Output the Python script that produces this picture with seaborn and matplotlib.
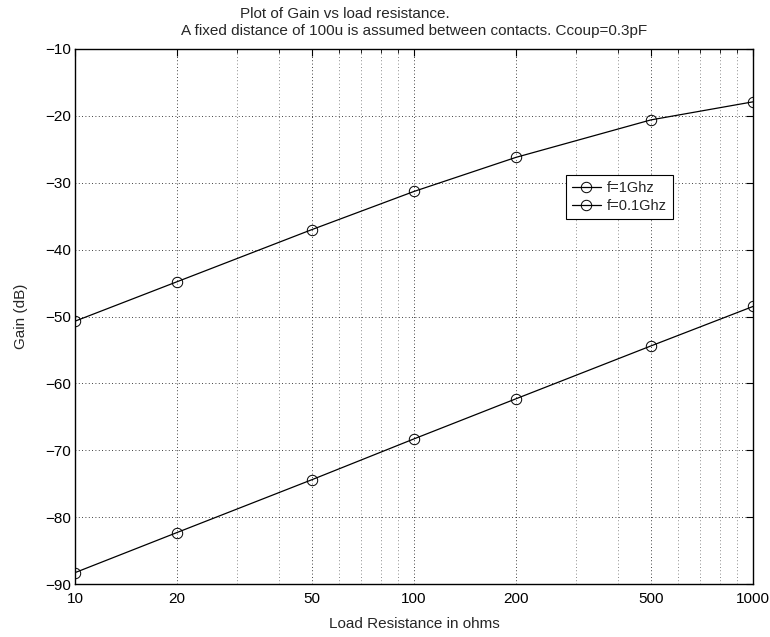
import matplotlib
matplotlib.use("Agg")
import matplotlib.pyplot as plt
import seaborn as sns
import pandas as pd
from matplotlib.ticker import FixedLocator, LogLocator, NullFormatter, FixedFormatter

resistance = [10, 20, 50, 100, 200, 500, 1000]
gain_1ghz = [-50.7, -44.8, -37.0, -31.3, -26.2, -20.6, -17.9]
gain_01ghz = [-88.3, -82.3, -74.4, -68.3, -62.3, -54.4, -48.5]
series_labels = ["f=1Ghz", "f=0.1Ghz"]
x_ticks = [10, 20, 50, 100, 200, 500, 1000]
y_ticks = [-90, -80, -70, -60, -50, -40, -30, -20, -10]

sns.set_theme(style="white")
plt.rcParams["font.family"] = ["Liberation Sans", "DejaVu Sans"]
plt.rcParams["axes.unicode_minus"] = True

fig = plt.figure(figsize=(7.7, 6.37), dpi=100)
ax = fig.add_axes([75/770, 53/637, 678/770, 535/637])

df = pd.DataFrame({
    "R": resistance * 2,
    "G": gain_1ghz + gain_01ghz,
    "s": [series_labels[0]] * 7 + [series_labels[1]] * 7,
})
sns.lineplot(data=df, x="R", y="G", hue="s", palette=["black", "black"],
             marker="o", markersize=7.5, markerfacecolor="none",
             markeredgecolor="black", markeredgewidth=0.7,
             linewidth=0.9, ax=ax, legend=True)

ax.set_xscale("log")
ax.set_xlim(10, 1000)
ax.set_ylim(-90, -10)
ax.xaxis.set_major_locator(FixedLocator(x_ticks))
ax.xaxis.set_major_formatter(FixedFormatter([str(v) for v in x_ticks]))
ax.xaxis.set_minor_locator(LogLocator(base=10, subs=[3, 4, 6, 7, 8, 9]))
ax.xaxis.set_minor_formatter(NullFormatter())
ax.set_yticks(y_ticks)
ax.set_yticklabels(["\u221290", "\u221280", "\u221270", "\u221260", "\u221250",
                    "\u221240", "\u221230", "\u221220", "\u221210"])

ax.tick_params(axis="both", which="both", direction="in", top=True, right=True,
               labelsize=11, colors="black")
ax.tick_params(axis="x", pad=6)
ax.tick_params(axis="y", pad=3)
ax.tick_params(which="major", length=5, width=0.8)
ax.tick_params(which="minor", length=3, width=0.6)

ax.grid(True, which="major", linestyle=(0, (1, 3)), color="black", linewidth=0.6)
ax.grid(True, which="minor", axis="x", linestyle=(0, (1, 3)), color="#666666", linewidth=0.6)

for sp in ax.spines.values():
    sp.set_color("black")
    sp.set_linewidth(1.0)

ax.set_xlabel("Load Resistance in ohms", fontsize=11, labelpad=8)
ax.set_ylabel("Gain (dB)", fontsize=11, labelpad=12)

leg = ax.legend(loc="upper left", bbox_to_anchor=((566-75)/678, 1 - (175-49)/535),
                frameon=True, fancybox=False, edgecolor="black", framealpha=1,
                fontsize=10.5, handlelength=2.0, handletextpad=0.4,
                borderpad=0.4, labelspacing=0.3, borderaxespad=0)
leg.get_frame().set_linewidth(0.8)

fig.text(345/770, 1 - 14/637, "Plot of Gain vs load resistance.", ha="center", va="center", fontsize=11)
fig.text(414/770, 1 - 31/637, "A fixed distance of 100u is assumed between contacts. Ccoup=0.3pF",
         ha="center", va="center", fontsize=11)

fig.savefig("out.png", dpi=100, facecolor="white")
